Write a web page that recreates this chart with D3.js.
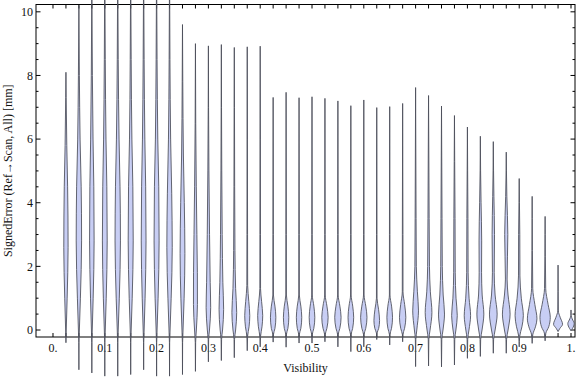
<!DOCTYPE html>
<html>
<head>
<meta charset="utf-8">
<script src="https://cdn.jsdelivr.net/npm/d3@7"></script>
<style>
  body { margin: 0; background: #fff; }
  svg { display: block; }
  text { font-family: "Liberation Serif", "Times New Roman", serif; fill: #111; }
</style>
</head>
<body>
<svg id="chart" width="576" height="377"></svg>
<script>
// visibility bins (one violin each)
const visibility = [0.025, 0.05, 0.075, 0.1, 0.125, 0.15, 0.175, 0.2, 0.225, 0.25,
  0.275, 0.3, 0.325, 0.35, 0.375, 0.4, 0.425, 0.45, 0.475, 0.5,
  0.525, 0.55, 0.575, 0.6, 0.625, 0.65, 0.675, 0.7, 0.725, 0.75,
  0.775, 0.8, 0.825, 0.85, 0.875, 0.9, 0.925, 0.95, 0.975, 1.0];

// smallest / largest signed error per bin [mm]
const errMin = [-0.4, -1.25, -1.35, -1.45, -1.45, -1.4, -1.25, -1.45, -1.45, -1.4,
  -1.3, -1.0, -0.96, -0.87, -0.65, -0.53, -0.38, -0.54, -0.41, -0.41,
  -0.37, -0.53, -0.68, -0.53, -0.3, -0.47, -0.37, -1.15, -1.13, -1.16,
  -1.1, -0.89, -0.83, -0.73, -0.73, -0.53, -0.42, -0.34, -0.05, -0.02];
const errMax = [8.1, 10.2, 11, 11.5, 11.5, 11.5, 11.5, 11.5, 11.5, 9.6,
  9.0, 8.93, 8.97, 8.88, 8.9, 8.92, 7.31, 7.47, 7.3, 7.33,
  7.28, 7.2, 7.05, 7.23, 6.99, 7.02, 7.12, 7.62, 7.37, 7.04,
  6.74, 6.38, 6.09, 5.92, 5.59, 4.76, 4.2, 3.57, 2.04, 0.63];

// density profile per bin: [error, relative density]
const profiles = [
  [[0, 0.05], [1, 0.2], [2.6, 0.36], [4.5, 0.28], [5.8, 0.14], [7.3, 0.04]],
  [[-0.4, 0.02], [0, 0.08], [1, 0.25], [2.8, 0.45], [4.5, 0.38], [6, 0.2], [8, 0.08]],
  [[-0.4, 0.02], [0, 0.07], [1, 0.22], [2.8, 0.38], [4.5, 0.33], [6, 0.2], [8, 0.09]],
  [[-0.4, 0.02], [0, 0.08], [1, 0.24], [2.8, 0.4], [4.5, 0.34], [6, 0.2], [8.5, 0.08]],
  [[-0.4, 0.02], [0, 0.08], [1, 0.26], [2.8, 0.45], [4.5, 0.38], [6, 0.22], [8.5, 0.08]],
  [[-0.4, 0.02], [0, 0.08], [1, 0.25], [2.8, 0.42], [4.5, 0.36], [6, 0.2], [8.5, 0.08]],
  [[-0.4, 0.02], [0, 0.08], [1, 0.24], [2.8, 0.4], [4.5, 0.34], [6, 0.2], [8.5, 0.08]],
  [[-0.4, 0.02], [0, 0.08], [1, 0.25], [2.8, 0.42], [4.5, 0.36], [6, 0.2], [8.5, 0.08]],
  [[-0.4, 0.02], [0, 0.09], [1, 0.27], [2.6, 0.45], [4.3, 0.36], [6, 0.18], [8.5, 0.07]],
  [[-0.4, 0.02], [0, 0.09], [1, 0.27], [2.4, 0.4], [4, 0.3], [5.5, 0.15], [7.8, 0.05]],
  [[-0.4, 0.03], [0, 0.15], [0.8, 0.33], [1.8, 0.32], [3, 0.24], [4.5, 0.14], [6.5, 0.05]],
  [[-0.3, 0.04], [0, 0.18], [0.7, 0.38], [1.5, 0.3], [3, 0.19], [5, 0.09], [7, 0.03]],
  [[-0.3, 0.04], [0, 0.2], [0.65, 0.38], [1.5, 0.25], [3, 0.14], [5, 0.07], [7, 0.03]],
  [[-0.3, 0.04], [0, 0.22], [0.55, 0.4], [1.3, 0.22], [2.5, 0.11], [4.5, 0.06], [7, 0.03]],
  [[-0.2, 0.06], [0.1, 0.3], [0.45, 0.42], [0.9, 0.26], [1.4, 0.07], [3, 0.05], [6, 0.03]],
  [[-0.2, 0.06], [0.1, 0.3], [0.45, 0.42], [0.9, 0.23], [1.3, 0.06], [3, 0.05], [6, 0.03]],
  [[-0.15, 0.04], [0.05, 0.3], [0.4, 0.45], [0.75, 0.3], [1.1, 0.05], [3, 0.04], [5.5, 0.02]],
  [[-0.15, 0.04], [0.05, 0.3], [0.4, 0.45], [0.75, 0.3], [1.1, 0.05], [3, 0.04], [5.5, 0.02]],
  [[-0.15, 0.04], [0.05, 0.3], [0.4, 0.45], [0.75, 0.3], [1.1, 0.05], [3, 0.04], [5.5, 0.02]],
  [[-0.15, 0.04], [0.05, 0.3], [0.4, 0.47], [0.75, 0.31], [1.1, 0.05], [3, 0.04], [5.5, 0.02]],
  [[-0.15, 0.04], [0.05, 0.32], [0.4, 0.53], [0.75, 0.33], [1.1, 0.05], [3, 0.04], [5.5, 0.02]],
  [[-0.15, 0.04], [0.05, 0.32], [0.4, 0.53], [0.75, 0.33], [1.1, 0.05], [3, 0.04], [5.5, 0.02]],
  [[-0.15, 0.04], [0.05, 0.3], [0.4, 0.47], [0.75, 0.31], [1.1, 0.05], [3, 0.04], [5.5, 0.02]],
  [[-0.15, 0.04], [0.05, 0.32], [0.4, 0.53], [0.75, 0.33], [1.1, 0.05], [3, 0.04], [5.5, 0.02]],
  [[-0.1, 0.05], [0.05, 0.32], [0.3, 0.47], [0.65, 0.3], [1.0, 0.05], [3, 0.04], [5.5, 0.02]],
  [[-0.15, 0.04], [0.05, 0.3], [0.4, 0.47], [0.75, 0.31], [1.1, 0.05], [3, 0.04], [5.5, 0.02]],
  [[-0.15, 0.04], [0.05, 0.32], [0.4, 0.53], [0.8, 0.33], [1.2, 0.06], [3, 0.05], [5.5, 0.02]],
  [[-0.3, 0.04], [0, 0.2], [0.6, 0.48], [1.2, 0.3], [2, 0.12], [3.5, 0.08], [5.5, 0.04]],
  [[-0.3, 0.05], [0, 0.25], [0.55, 0.56], [1.2, 0.3], [2, 0.15], [3.5, 0.1], [5.5, 0.05]],
  [[-0.3, 0.05], [0, 0.25], [0.5, 0.5], [1.1, 0.28], [2, 0.13], [3.5, 0.09], [5.5, 0.04]],
  [[-0.3, 0.05], [0, 0.24], [0.45, 0.47], [1, 0.26], [1.8, 0.13], [3.5, 0.1], [5.3, 0.04]],
  [[-0.3, 0.05], [0, 0.26], [0.45, 0.53], [1, 0.28], [1.8, 0.12], [3.5, 0.09], [5, 0.04]],
  [[-0.3, 0.05], [0, 0.28], [0.5, 0.58], [1.1, 0.3], [1.8, 0.2], [2.8, 0.22], [4, 0.12], [5, 0.04]],
  [[-0.3, 0.05], [0, 0.3], [0.5, 0.64], [1.1, 0.3], [1.8, 0.15], [3, 0.2], [4.2, 0.1], [5, 0.04]],
  [[-0.3, 0.05], [0, 0.3], [0.5, 0.64], [1.1, 0.3], [1.6, 0.14], [3, 0.26], [4.2, 0.1], [5, 0.03]],
  [[-0.2, 0.08], [0.1, 0.45], [0.45, 0.69], [1, 0.35], [1.7, 0.12], [3, 0.1], [4, 0.04]],
  [[-0.15, 0.1], [0.1, 0.55], [0.35, 0.8], [0.8, 0.45], [1.3, 0.1], [2.5, 0.04], [3.5, 0.02]],
  [[-0.1, 0.12], [0.1, 0.6], [0.4, 0.86], [0.8, 0.5], [1.3, 0.1], [2.3, 0.04], [3, 0.02]],
  [[0.05, 0.3], [0.18, 0.75], [0.4, 0.35], [0.6, 0.05], [1.2, 0.02]],
  [[0.05, 0.25], [0.2, 0.53], [0.35, 0.2], [0.45, 0.03]]
];

const xTickValues = d3.range(0, 41).map(i => i * 0.025);
const xTickLabels = { 0: "0.", 4: "0.1", 8: "0.2", 12: "0.3", 16: "0.4", 20: "0.5",
  24: "0.6", 28: "0.7", 32: "0.8", 36: "0.9", 40: "1." };
const yMajor = [0, 2, 4, 6, 8, 10];
const yMinor = d3.range(0, 21).map(i => i * 0.5);

const svg = d3.select("#chart");
const plotLeft = 36, plotRight = 575, plotTop = 4.5, plotBottom = 337;

const x = d3.scaleLinear().domain([-0.0328, 1.0077]).range([plotLeft, plotRight]);
const y = d3.scaleLinear().domain([-0.22, 10.23]).range([plotBottom, plotTop]);
const w = d3.scaleLinear().domain([0, 1]).range([0, 6]);

// frame
const frame = svg.append("g");
frame.append("rect")
  .attr("x", plotLeft).attr("y", plotTop)
  .attr("width", plotRight - plotLeft).attr("height", plotBottom - plotTop)
  .attr("fill", "none").attr("stroke", "#000").attr("stroke-width", 1);

// x ticks (bottom + top, pointing in)
xTickValues.forEach((v, i) => {
  const px = x(v);
  frame.append("line").attr("x1", px).attr("x2", px).attr("y1", plotBottom).attr("y2", plotBottom - 4)
    .attr("stroke", "#000");
  frame.append("line").attr("x1", px).attr("x2", px).attr("y1", plotTop).attr("y2", plotTop + 4)
    .attr("stroke", "#000");
  if (xTickLabels[i] !== undefined) {
    frame.append("text").attr("x", px).attr("y", 352)
      .attr("text-anchor", "middle").attr("font-size", 12)
      .text(xTickLabels[i]);
  }
});

// y ticks (left + right)
yMinor.forEach(v => {
  const py = y(v);
  const len = yMajor.includes(v) ? 4.5 : 2.5;
  frame.append("line").attr("x1", plotLeft).attr("x2", plotLeft + len).attr("y1", py).attr("y2", py)
    .attr("stroke", "#000");
  frame.append("line").attr("x1", plotRight).attr("x2", plotRight - len).attr("y1", py).attr("y2", py)
    .attr("stroke", "#000");
});
yMajor.forEach(v => {
  frame.append("text").attr("x", 33).attr("y", y(v)).attr("dy", "0.35em")
    .attr("text-anchor", "end").attr("font-size", 12)
    .text(v);
});

// axis titles
svg.append("text").attr("x", (plotLeft + plotRight) / 2).attr("y", 372)
  .attr("text-anchor", "middle").attr("font-size", 12)
  .text("Visibility");
svg.append("text")
  .attr("transform", `translate(12,${(plotTop + plotBottom) / 2}) rotate(-90)`)
  .attr("text-anchor", "middle").attr("font-size", 12)
  .text("SignedError (Ref\u2192Scan, All) [mm]");

// violins
const violins = svg.append("g");
visibility.forEach((v, i) => {
  const cx = x(v);
  const pts = [[errMin[i], 0], ...profiles[i], [errMax[i], 0]];
  const area = d3.area()
    .y(d => y(d[0]))
    .x0(d => cx - w(d[1]))
    .x1(d => cx + w(d[1]))
    .curve(d3.curveMonotoneY);
  violins.append("path")
    .attr("d", area(pts))
    .attr("fill", "#c8cef4")
    .attr("stroke", "#4a4c58")
    .attr("stroke-opacity", 0.85)
    .attr("stroke-width", 1);
});
</script>
</body>
</html>
